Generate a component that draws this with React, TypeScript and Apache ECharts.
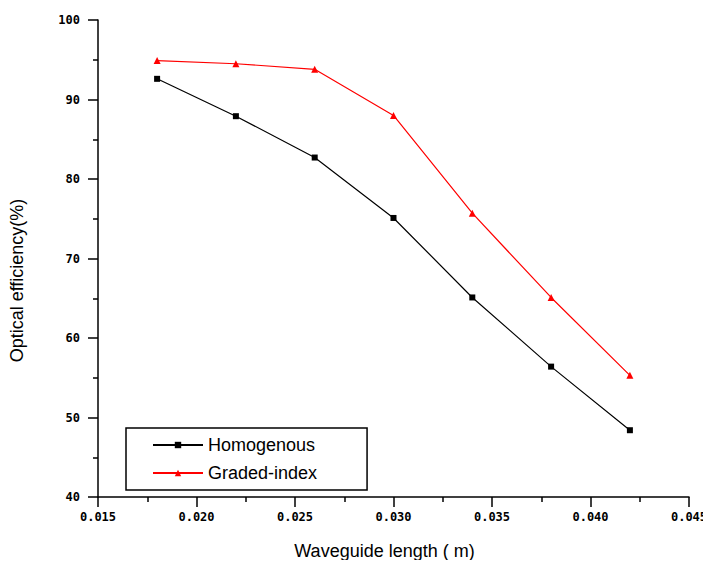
import React, { useEffect, useRef } from "react";
import * as echarts from "echarts";

const lengths = [0.018, 0.022, 0.026, 0.03, 0.034, 0.038, 0.042];
const homogenous = [92.6, 87.9, 82.7, 75.1, 65.1, 56.4, 48.4];
const gradedIndex = [94.9, 94.5, 93.8, 88.0, 75.7, 65.1, 55.3];
const seriesNames = ["Homogenous", "Graded-index"];

const tickFont = {
  fontFamily: "DejaVu Sans Mono",
  fontWeight: "bold" as const,
  fontSize: 12,
  color: "#000",
};

const titleFont = { fontFamily: "Liberation Sans", fontSize: 18, color: "#000" };

export default function App() {
  const ref = useRef<HTMLDivElement>(null);
  useEffect(() => {
    if (!ref.current) return;
    const chart = echarts.init(ref.current, null, { renderer: "svg" });
    chart.setOption({
      animation: false,
      backgroundColor: "#fff",
      grid: { left: 96, top: 20, right: 22, bottom: 71, containLabel: false },
      legend: {
        orient: "vertical",
        left: 126,
        top: 428,
        itemWidth: 50,
        itemHeight: 8,
        itemGap: 10,
        padding: [8, 50, 8, 26],
        borderColor: "#000",
        borderWidth: 1.5,
        borderRadius: 0,
        textStyle: titleFont,
        data: seriesNames,
      },
      xAxis: {
        type: "value",
        min: 0.015,
        max: 0.045,
        interval: 0.005,
        name: "Waveguide length ( m)",
        nameLocation: "middle",
        nameGap: 45,
        nameTextStyle: { ...titleFont, padding: [0, 18, 0, 0] },
        axisLine: { show: true, lineStyle: { color: "#000", width: 1.5 } },
        axisTick: { show: true, inside: false, length: 10, lineStyle: { color: "#000", width: 1.5 } },
        minorTick: { show: true, splitNumber: 2, length: 5, lineStyle: { color: "#000", width: 1.5 } },
        splitLine: { show: false },
        axisLabel: { ...tickFont, margin: 14, formatter: (v: number) => v.toFixed(3) },
      },
      yAxis: {
        type: "value",
        min: 40,
        max: 100,
        interval: 10,
        name: "Optical efficiency(%)",
        nameLocation: "middle",
        nameGap: 72,
        nameTextStyle: { ...titleFont, padding: [0, 44, 0, 0] },
        axisLine: { show: true, lineStyle: { color: "#000", width: 1.5 } },
        axisTick: { show: true, inside: false, length: 10, lineStyle: { color: "#000", width: 1.5 } },
        minorTick: { show: true, splitNumber: 2, length: 5, lineStyle: { color: "#000", width: 1.5 } },
        splitLine: { show: false },
        axisLabel: { ...tickFont, margin: 18 },
      },
      series: [
        {
          name: seriesNames[0],
          type: "line",
          data: lengths.map((x, i) => [x, homogenous[i]]),
          symbol: "rect",
          symbolSize: 6,
          lineStyle: { color: "#000", width: 1.2 },
          itemStyle: { color: "#000" },
        },
        {
          name: seriesNames[1],
          type: "line",
          data: lengths.map((x, i) => [x, gradedIndex[i]]),
          symbol: "triangle",
          symbolSize: 7,
          lineStyle: { color: "#ff0000", width: 1.2 },
          itemStyle: { color: "#ff0000" },
        },
      ],
    });
    return () => chart.dispose();
  }, []);
  return <div ref={ref} style={{ width: 711, height: 568, margin: -8 }} />;
}
